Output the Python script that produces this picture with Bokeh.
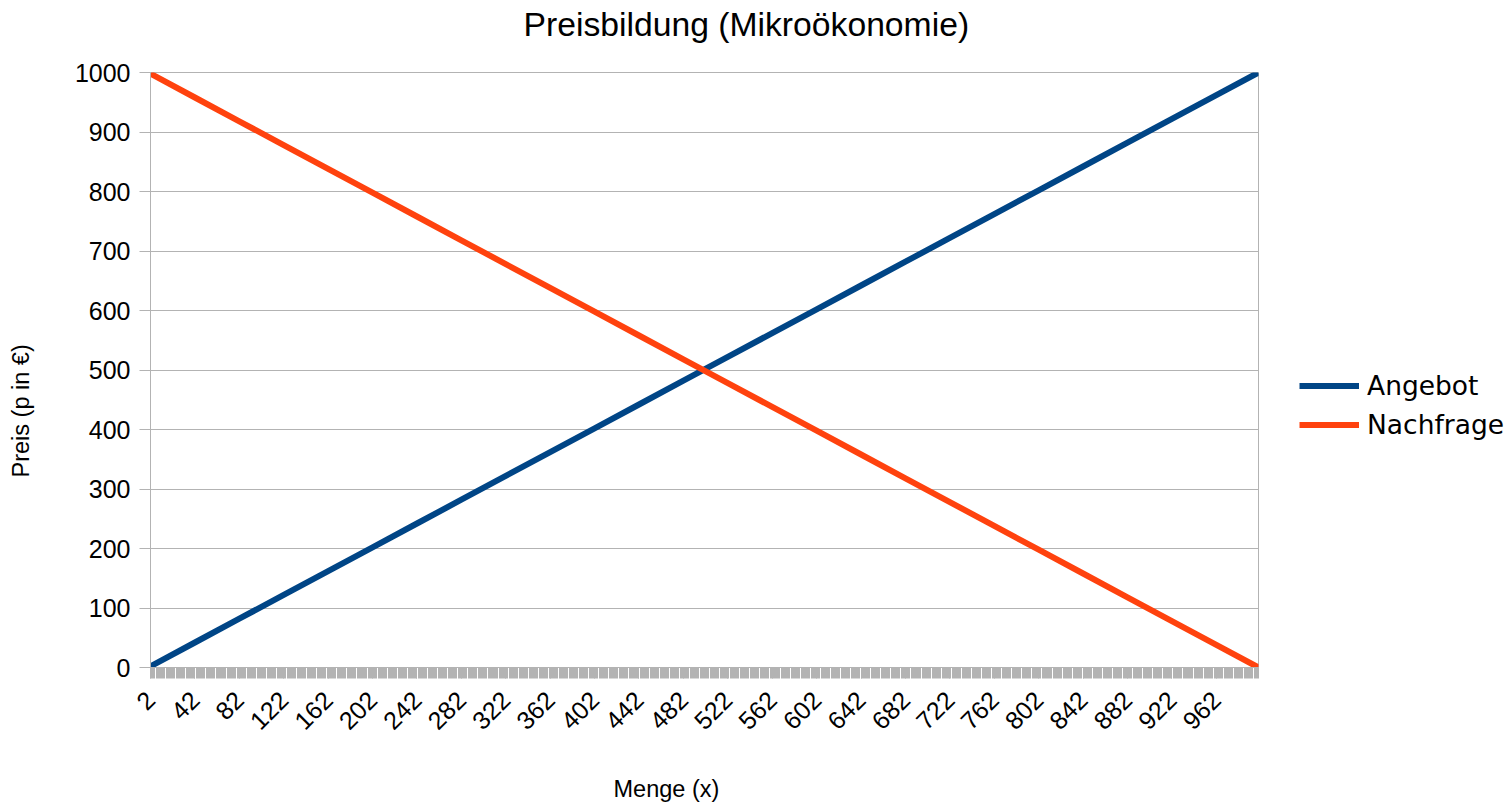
import math
from bokeh.plotting import figure
from bokeh.layouts import row
from bokeh.models import Range1d, FixedTicker, Title, Legend, LegendItem
from bokeh.embed import file_html
from bokeh.resources import INLINE

# ---- data ----
menge = [2, 42, 82, 122, 162, 202, 242, 282, 322, 362, 402, 442, 482,
         522, 562, 602, 642, 682, 722, 762, 802, 842, 882, 922, 962, 1000]
angebot = [2, 42, 82, 122, 162, 202, 242, 282, 322, 362, 402, 442, 482,
           522, 562, 602, 642, 682, 722, 762, 802, 842, 882, 922, 962, 1000]
nachfrage = [998, 958, 918, 878, 838, 798, 758, 718, 678, 638, 598, 558, 518,
             478, 438, 398, 358, 318, 278, 238, 198, 158, 118, 78, 38, 0]
x_tick_labels = [2, 42, 82, 122, 162, 202, 242, 282, 322, 362, 402, 442, 482,
                 522, 562, 602, 642, 682, 722, 762, 802, 842, 882, 922, 962]
y_ticks = [0, 100, 200, 300, 400, 500, 600, 700, 800, 900, 1000]
series_names = ["Angebot", "Nachfrage"]
series_colors = ["#004586", "#ff420e"]
series_values = [angebot, nachfrage]
title_text = "Preisbildung (Mikroökonomie)"
x_title = "Menge (x)"
y_title = "Preis (p in €)"

GRID = "#b3b3b3"
FONT = "Liberation Sans"

H = 804
W_MAIN = 1290
W_LEG = 218
FL, FR, FT, FB = 150, 1258, 72, 667

p = figure(width=W_MAIN, height=H, output_backend="svg", toolbar_location=None,
           title=None, x_range=Range1d(2, 1000), y_range=Range1d(0, 1000),
           min_border_left=FL, min_border_right=W_MAIN - FR,
           min_border_top=FT, min_border_bottom=H - FB)
p.outline_line_color = GRID
p.background_fill_color = "white"
p.border_fill_color = "white"


def spacer(size):
    return Title(text=" ", text_font_size="1px", standoff=size - 3)


# chart title (spacer first = closest to the frame)
p.add_layout(spacer(30), "above")
p.add_layout(Title(text=title_text, align="left", offset=373, standoff=0,
                   text_font=FONT, text_font_size="33.7px",
                   text_font_style="normal", text_color="black"), "above")

# axes
p.xaxis.ticker = FixedTicker(ticks=x_tick_labels, minor_ticks=list(range(2, 1001)))
p.yaxis.ticker = FixedTicker(ticks=y_ticks)
for ax in (p.xaxis[0], p.yaxis[0]):
    ax.axis_line_color = GRID
    ax.major_tick_line_color = GRID
    ax.major_tick_in = 0
    ax.major_tick_out = 11
    ax.major_label_text_font = FONT
    ax.major_label_text_font_size = "25px"
    ax.major_label_text_color = "black"
p.xaxis.minor_tick_line_color = GRID
p.xaxis.minor_tick_in = 0
p.xaxis.minor_tick_out = 11
p.yaxis.minor_tick_line_color = None
p.xaxis.major_label_orientation = math.pi / 4
p.xaxis.major_label_standoff = 17
p.yaxis.major_label_standoff = 9

p.xgrid.grid_line_color = None
p.ygrid.grid_line_color = GRID
p.ygrid.grid_line_width = 1

for vals, col in zip(series_values, series_colors):
    p.line(menge, vals, line_color=col, line_width=6)

# axis titles
p.add_layout(spacer(33), "below")
p.add_layout(Title(text=x_title, align="left", offset=463, standoff=0,
                   text_font=FONT, text_font_size="23.5px",
                   text_font_style="normal", text_color="black"), "below")
p.add_layout(spacer(38), "left")
p.add_layout(Title(text=y_title, align="left", offset=190, standoff=0,
                   text_font=FONT, text_font_size="23.5px",
                   text_font_style="normal", text_color="black"), "left")

# legend panel (its frame is aligned with the main plot's frame by the row)
q = figure(width=W_LEG, height=H, output_backend="svg", toolbar_location=None,
           title=None, x_axis_type=None, y_axis_type=None,
           x_range=Range1d(-2, -1), y_range=Range1d(-2, -1),
           min_border_left=0, min_border_right=0,
           min_border_top=0, min_border_bottom=0)
q.outline_line_color = None
q.xgrid.grid_line_color = None
q.ygrid.grid_line_color = None
q.background_fill_color = "white"
q.border_fill_color = "white"
items = []
for name, vals, col in zip(series_names, series_values, series_colors):
    rr = q.line(menge, vals, line_color=col, line_width=6)
    items.append(LegendItem(label=name, renderers=[rr]))
legend = Legend(items=items, location=(1299 - W_MAIN, FB - 440),
                padding=0, margin=0, spacing=8,
                glyph_width=60, glyph_height=31, label_height=31,
                label_standoff=8, border_line_color=None,
                background_fill_alpha=0,
                label_text_font="DejaVu Sans", label_text_font_size="26.5px",
                label_text_color="black")
q.add_layout(legend, "center")

layout = row(p, q, spacing=0)
open("out.html", "w").write(file_html(layout, INLINE))
